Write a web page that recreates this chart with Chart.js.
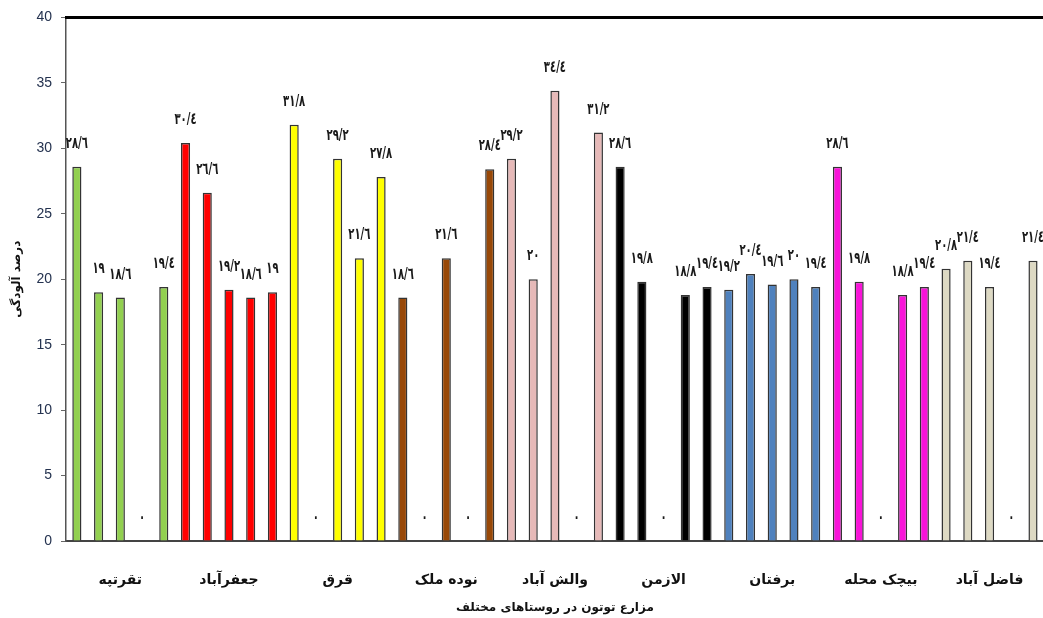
<!DOCTYPE html>
<html>
<head>
<meta charset="utf-8">
<script src="https://cdn.jsdelivr.net/npm/chart.js@4/dist/chart.umd.min.js"></script>
<style>
  html, body { margin: 0; padding: 0; background: #fff; overflow: hidden; }
  #wrap { position: absolute; left: 0; top: 0; width: 1056px; height: 618px; }
</style>
</head>
<body>
<div id="wrap"><canvas id="chart"></canvas></div>
<script>
// villages (x axis groups) and their bar colours
const villages = ['تقرتپه', 'جعفرآباد', 'قرق', 'نوده ملک', 'والش آباد', 'الازمن', 'برفتان', 'بیچک محله', 'فاضل آباد'];
const villageColors = ['#92D050', '#FF0000', '#FFFF00', '#984807', '#E6B9B8', '#000000', '#4F81BD', '#F814D8', '#DDD9C3'];

// infection percent per field, five fields per village
const taghretappe = [28.6, 19, 18.6, 0, 19.4];
const jafarabad   = [30.4, 26.6, 19.2, 18.6, 19];
const gharagh     = [31.8, 0, 29.2, 21.6, 27.8];
const nodehMalek  = [18.6, 0, 21.6, 0, 28.4];
const valashabad  = [29.2, 20, 34.4, 0, 31.2];
const alazman     = [28.6, 19.8, 0, 18.8, 19.4];
const barfatan    = [19.2, 20.4, 19.6, 20, 19.4];
const bichakMahale = [28.6, 19.8, 0, 18.8, 19.4];
const fazelabad   = [20.8, 21.4, 19.4, 0, 21.4];

const yTicks = [0, 5, 10, 15, 20, 25, 30, 35, 40];

const groups = [taghretappe, jafarabad, gharagh, nodehMalek, valashabad, alazman, barfatan, bichakMahale, fazelabad];
const values = [];
const colors = [];
const labels = [];
groups.forEach((g, gi) => {
  g.forEach((v, i) => {
    values.push(v);
    colors.push(villageColors[gi]);
    labels.push(i === 2 ? villages[gi] : '');
  });
});

// persian number formatting: digits -> arabic-indic, decimal point -> slash
const faDigits = ['٠', '١', '٢', '٣', '٤', '٥', '٦', '٧', '٨', '٩'];
function toFa(v) {
  return String(v).replace('.', '/').replace(/[0-9]/g, d => faDigits[+d]);
}

// value labels above bars, squeezed a bit like the narrow original font
const valueLabels = {
  id: 'valueLabels',
  afterDatasetsDraw(chart) {
    const ctx = chart.ctx;
    const meta = chart.getDatasetMeta(0);
    meta.data.forEach((bar, i) => {
      ctx.save();
      ctx.translate(bar.x, bar.y - 15);
      ctx.scale(0.63, 1);
      ctx.font = 'bold 16px "DejaVu Sans"';
      ctx.fillStyle = '#1a1a1a';
      ctx.textAlign = 'center';
      ctx.textBaseline = 'bottom';
      ctx.fillText(toFa(values[i]), 0, 0);
      ctx.restore();
    });
  }
};

const topBorder = {
  id: 'topBorder',
  afterDraw(chart) {
    const { ctx, chartArea } = chart;
    ctx.save();
    ctx.strokeStyle = '#000';
    ctx.lineWidth = 3;
    ctx.beginPath();
    ctx.moveTo(chartArea.left - 1, chartArea.top);
    ctx.lineTo(chartArea.right, chartArea.top);
    ctx.stroke();
    ctx.restore();
  }
};

new Chart(document.getElementById('chart'), {
  type: 'bar',
  data: {
    labels: labels,
    datasets: [{
      data: values,
      backgroundColor: colors,
      borderColor: '#333',
      borderWidth: 1.5,
      categoryPercentage: 1,
      barPercentage: 0.42
    }]
  },
  plugins: [valueLabels, topBorder],
  options: {
    responsive: true,
    maintainAspectRatio: false,
    animation: false,
    layout: { padding: { top: 17, left: 0, right: 0, bottom: 0 } },
    plugins: {
      legend: { display: false },
      tooltip: { enabled: false }
    },
    scales: {
      x: {
        grid: { display: false },
        border: { display: true, color: '#444', width: 2 },
        ticks: {
          autoSkip: false,
          maxRotation: 0,
          padding: 23,
          color: '#111',
          font: { family: 'DejaVu Sans', size: 14, weight: 'bold' }
        },
        title: {
          display: true,
          text: 'مزارع توتون در روستاهای مختلف',
          color: '#111',
          font: { family: 'DejaVu Sans', size: 12, weight: 'bold' },
          padding: { top: 0, bottom: 3 }
        },
        afterFit(scale) { scale.height = 77; }
      },
      y: {
        min: 0,
        max: 40,
        afterBuildTicks(scale) { scale.ticks = yTicks.map(v => ({ value: v })); },
        grid: { drawOnChartArea: false, drawTicks: true, tickLength: 5, color: '#666' },
        border: { display: true, color: '#555', width: 1.5 },
        ticks: {
          padding: 9,
          color: '#24324f',
          font: { family: 'Liberation Sans', size: 14 }
        },
        title: {
          display: true,
          text: 'درصد آلودگی',
          color: '#111',
          font: { family: 'DejaVu Sans', size: 12, weight: 'bold' },
          padding: { top: 10, bottom: 0 }
        },
        afterFit(scale) { scale.width = 66; }
      }
    }
  }
});
</script>
</body>
</html>
